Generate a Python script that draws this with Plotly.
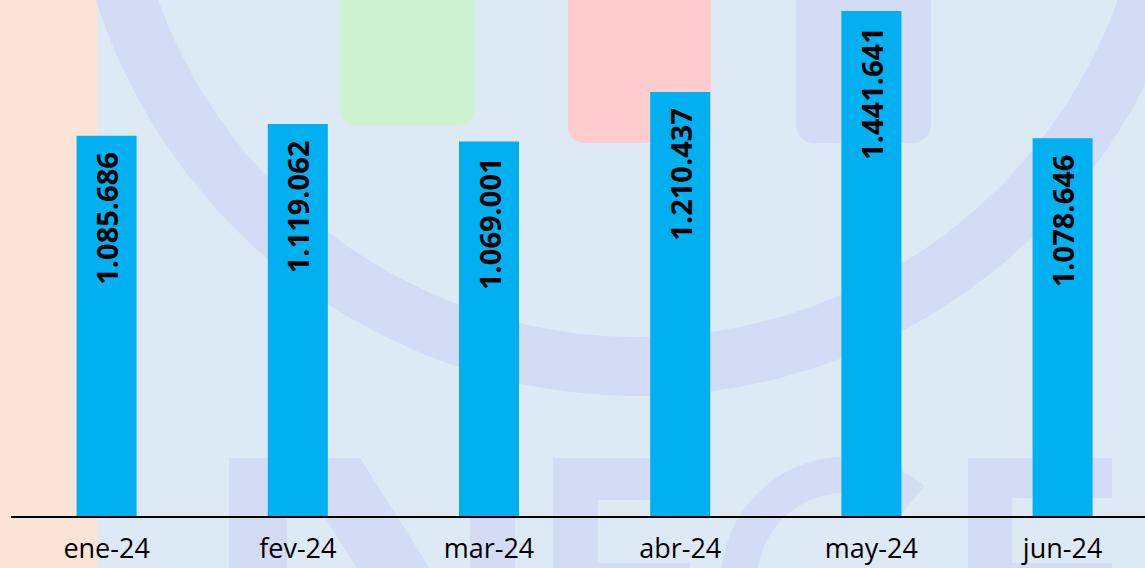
import numpy as np
import plotly.graph_objects as go

# ---- data ----
months = ["ene-24", "fev-24", "mar-24", "abr-24", "may-24", "jun-24"]
values = [1085686, 1119062, 1069001, 1210437, 1441641, 1078646]
labels = [f"{v:,}".replace(",", ".") for v in values]

# ---- layout geometry (figure pixels) ----
FIG_W, FIG_H = 1145, 568
L, R, T, B = 11, 0, 0, 52
PW, PH = FIG_W - L - R, FIG_H - T - B

BG = "#DEE9F6"
LAV = "#D4DCF5"


def to_paper(px, py):
    return (px - L) / PW, 1 - (py - T) / PH


def poly_path(points):
    pts = [to_paper(x, y) for x, y in points]
    return "M " + " L ".join(f"{x:.5f},{y:.5f}" for x, y in pts) + " Z"


def rounded_bottom_rect(x0, x1, ytop, ybot, r, n=8):
    pts = [(x0, ytop), (x0, ybot - r)]
    for t in np.linspace(np.pi, np.pi / 2, n):
        pts.append((x0 + r + r * np.cos(t), ybot - r + r * np.sin(t)))
    for t in np.linspace(np.pi / 2, 0, n):
        pts.append((x1 - r + r * np.cos(t), ybot - r + r * np.sin(t)))
    pts.append((x1, ytop))
    return poly_path(pts)


def ring(cx, cy, ro, ri, t0, t1, n=120):
    ts = np.linspace(t0, t1, n)
    outer = [(cx + ro * np.cos(t), cy + ro * np.sin(t)) for t in ts]
    inner = [(cx + ri * np.cos(t), cy + ri * np.sin(t)) for t in ts[::-1]]
    return poly_path(outer + inner)


def rect(x0, x1, y0, y1):
    return poly_path([(x0, y0), (x1, y0), (x1, y1), (x0, y1)])


shapes = []


def add(path, color):
    shapes.append(dict(type="path", path=path, xref="paper", yref="paper",
                       fillcolor=color, line=dict(width=0), layer="below"))


# watermark decoration
add(rect(-15, 97, -10, 600), "#FBE4D6")
add(rounded_bottom_rect(340, 475, -20, 125, 16), "#CDF3D1")
add(rounded_bottom_rect(568, 711, -20, 143, 16), "#FFCDCE")
add(rounded_bottom_rect(796, 931, -20, 143, 18), LAV)
add(ring(638, -173, 569, 510, 0, np.pi), LAV)
# letters N E C E
add(rect(229, 287, 458, 800), LAV)
add(poly_path([(287, 458), (360, 458), (577, 800), (504, 800)]), LAV)
add(rect(470, 515, 458, 800), LAV)
add(rect(553, 598, 458, 800), LAV)
add(rect(553, 690, 458, 500), LAV)
add(rect(553, 690, 563, 600), LAV)
add(ring(845, 581, 124, 88, np.radians(50), np.radians(310)), LAV)
add(rect(968, 1012, 458, 800), LAV)
add(rect(968, 1112, 458, 498), LAV)
add(rect(968, 1112, 563, 600), LAV)

fig = go.Figure(go.Bar(
    x=months, y=values,
    marker=dict(color="#00B0F0", line=dict(width=0)),
    hoverinfo="skip",
))

annotations = [
    dict(x=m, y=v, xref="x", yref="y", text=f"<b>{lab}</b>", textangle=-90,
         yanchor="top", xanchor="center", yshift=-14, showarrow=False,
         font=dict(family="Open Sans", size=29, color="black"))
    for m, v, lab in zip(months, values, labels)
]

fig.update_layout(
    width=FIG_W, height=FIG_H,
    margin=dict(l=L, r=R, t=T, b=B, pad=0, autoexpand=False),
    paper_bgcolor=BG, plot_bgcolor="rgba(0,0,0,0)",
    bargap=0.686,
    showlegend=False,
    shapes=shapes,
    annotations=annotations,
    xaxis=dict(type="category", range=[-0.5, 5.431], showline=True,
               linecolor="black", linewidth=2, showgrid=False, zeroline=False,
               automargin=False, ticks="", ticklabelstandoff=8,
               tickfont=dict(family="Open Sans", size=27, color="black")),
    yaxis=dict(range=[0, 1473000], visible=False, showgrid=False, zeroline=False,
               automargin=False),
)

fig.write_html(
    "out.html",
    config={"displayModeBar": False},
    post_script="document.body.style.margin='0';document.body.style.overflow='hidden';",
)
